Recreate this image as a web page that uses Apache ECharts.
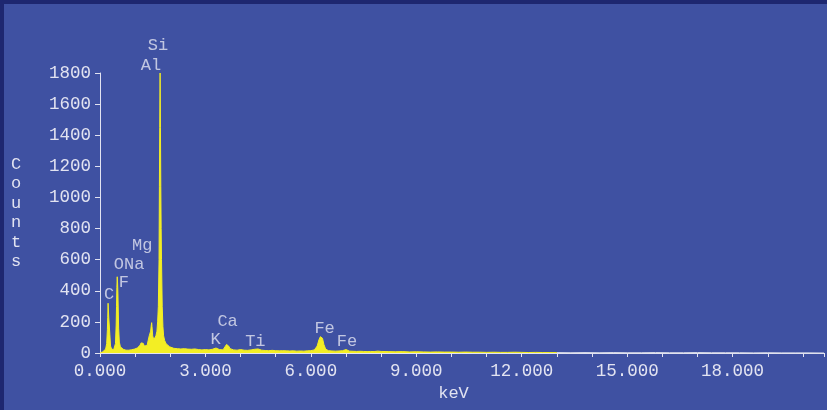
<!DOCTYPE html>
<html>
<head>
<meta charset="utf-8">
<script src="https://cdn.jsdelivr.net/npm/echarts@6/dist/echarts.min.js"></script>
<style>
html,body{margin:0;padding:0;background:#1e2770;width:827px;height:410px;overflow:hidden;}
#c{position:absolute;left:4px;top:4px;width:823px;height:406px;}
</style>
</head>
<body>
<div id="c"></div>
<script>
// Spectrum (keV, counts)
const energy = [0.00,0.04,0.08,0.12,0.16,0.19,0.21,0.22,0.23,0.24,0.25,0.26,0.28,0.30,0.33,0.36,0.39,0.42,0.44,0.46,0.47,0.48,0.49,0.50,0.51,0.53,0.55,0.58,0.62,0.66,0.70,0.74,0.78,0.82,0.86,0.90,0.94,0.98,1.02,1.06,1.10,1.14,1.17,1.20,1.23,1.26,1.30,1.34,1.37,1.40,1.44,1.46,1.47,1.48,1.50,1.53,1.56,1.59,1.62,1.64,1.66,1.68,1.69,1.70,1.71,1.72,1.73,1.74,1.75,1.77,1.79,1.81,1.84,1.88,1.93,1.98,2.03,2.1,2.2,2.3,2.4,2.5,2.6,2.7,2.8,2.9,3.0,3.1,3.2,3.3,3.4,3.5,3.55,3.6,3.63,3.66,3.7,3.8,3.9,4.0,4.1,4.2,4.3,4.4,4.5,4.6,4.7,4.8,4.9,5.0,5.1,5.2,5.3,5.4,5.5,5.6,5.7,5.8,5.9,6.0,6.1,6.18,6.23,6.27,6.30,6.33,6.37,6.42,6.5,6.6,6.7,6.8,6.9,6.95,7.0,7.05,7.1,7.2,7.3,7.4,7.5,7.6,7.7,7.8,7.9,8.0,8.2,8.4,8.6,8.8,9.0,9.2,9.4,9.6,9.8,10.0,10.2,10.4,10.6,10.8,11.0,11.2,11.4,11.6,11.8,12.0,12.2,12.4,12.6,12.8,13.0];
const counts = [0,3,8,15,25,60,150,230,320,310,225,220,120,45,25,20,22,30,60,180,300,420,490,450,380,160,70,40,30,24,20,18,17,18,20,21,22,25,28,32,38,50,65,75,62,45,40,48,80,110,140,180,195,170,110,85,90,110,140,200,300,600,1070,1450,1800,1450,1070,800,600,300,170,110,80,60,48,40,35,30,28,26,28,25,24,26,22,20,22,20,24,32,22,20,30,55,65,45,28,20,18,22,18,17,20,24,26,18,16,15,17,15,14,15,14,13,14,12,13,12,14,15,20,45,85,105,110,95,55,25,15,13,12,13,15,20,22,15,12,11,10,11,10,9,10,9,12,10,9,8,9,7,8,7,6,7,6,6,5,6,5,5,4,5,4,4,5,4,3,4,3,3,3];
const tailEnergy = [13.0,13.4,13.8,14.2,14.6,15.0,15.4,15.8,16.2,16.6,17.0,17.4,17.8,18.2,18.6,19.0,19.4,19.8,20.2,20.6];
const tailCounts = [3,2,3,2,3,2,2,3,2,2,3,2,2,2,1,2,1,1,1,0];
// Element labels (name, keV, counts where text sits)
const elemNames = ['Si','Al','Mg','ONa','F','C','Ca','K','Ti','Fe','Fe'];
const elemKeV = [1.65,1.45,1.20,0.83,0.68,0.26,3.63,3.29,4.42,6.39,7.03];
const elemCounts = [1980,1850,694,570,455,373,200,84,77,160,71];
// Axis ticks
const xMax = 20.6, xInterval = 1, xLabelEvery = 3;
const yMax = 1800, yInterval = 200;

const fg = '#e2e3f1';
const font = 'Liberation Mono';
const chart = echarts.init(document.getElementById('c'));
chart.setOption({
  backgroundColor: '#3f51a2',
  animation: false,
  grid: {left: 96, top: 69, right: 0, bottom: 57},
  xAxis: {
    type: 'value', min: 0, max: xMax, interval: xInterval,
    name: 'keV', nameLocation: 'middle', nameGap: 35,
    nameTextStyle: {color: fg, fontFamily: font, fontSize: 17, verticalAlign: 'middle', align: 'center', padding: [0, 17, 0, 0]},
    axisLine: {lineStyle: {color: fg, width: 1}},
    axisTick: {show: true, length: 4, lineStyle: {color: fg}},
    axisLabel: {color: fg, fontFamily: font, fontSize: 17.5, margin: 9,
      formatter: v => (Math.abs(v % xLabelEvery) < 1e-6 ? v.toFixed(3) : '')},
    splitLine: {show: false}
  },
  yAxis: {
    type: 'value', min: 0, max: yMax, interval: yInterval,
    name: 'C\no\nu\nn\nt\ns', nameLocation: 'middle', nameRotate: 0, nameGap: 84,
    nameTextStyle: {color: fg, fontFamily: font, fontSize: 17, lineHeight: 19.5, align: 'center', verticalAlign: 'middle'},
    axisLine: {show: true, lineStyle: {color: fg, width: 1}},
    axisTick: {show: true, length: 5, lineStyle: {color: fg}},
    axisLabel: {color: fg, fontFamily: font, fontSize: 17.5, margin: 9, formatter: v => String(v)},
    splitLine: {show: false}
  },
  series: [
    {
      type: 'line', data: energy.map((e, i) => [e, counts[i]]),
      showSymbol: false, symbol: 'none',
      lineStyle: {color: '#f3ee24', width: 1},
      areaStyle: {color: '#f3ee24', opacity: 1},
      z: 3
    },
    {
      type: 'line', data: tailEnergy.map((e, i) => [e, tailCounts[i]]),
      showSymbol: false, symbol: 'none',
      lineStyle: {color: '#d8dbe8', width: 1},
      z: 3
    },
    {
      type: 'scatter', clip: false, symbolSize: 0,
      data: elemNames.map((n, i) => ({name: n, value: [elemKeV[i], elemCounts[i]]})),
      label: {show: true, position: 'inside', formatter: p => p.name, color: fg, fontFamily: font, fontSize: 17, align: 'center', verticalAlign: 'middle'},
      z: 5
    }
  ]
});
</script>
</body>
</html>
